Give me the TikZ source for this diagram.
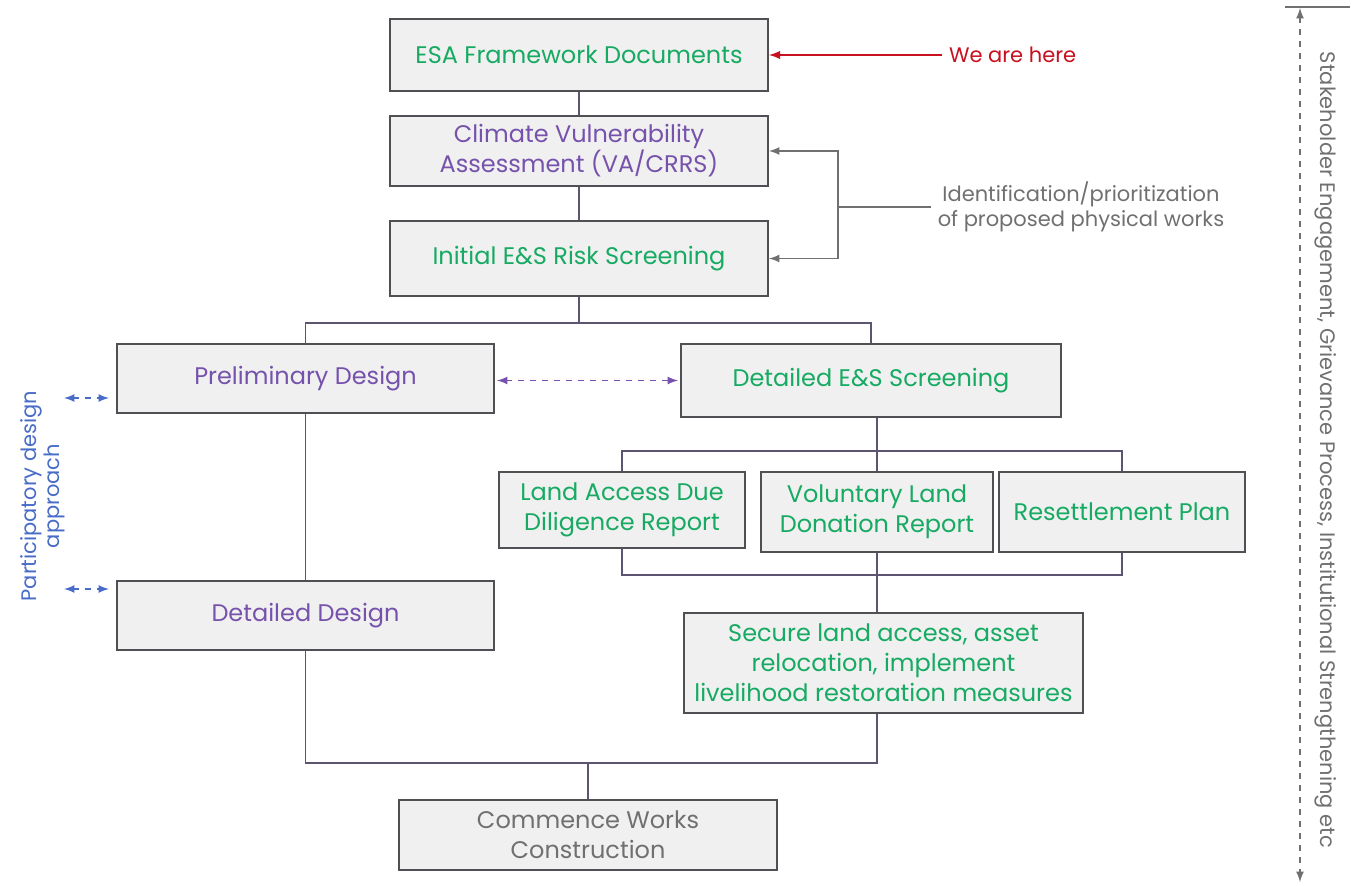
\documentclass[tikz,border=0pt]{standalone}
\usepackage{fontspec}
\setmainfont{Poppins}
\usepackage{tikz}
\usetikzlibrary{arrows}
\definecolor{esgreen}{RGB}{22,170,98}
\definecolor{espurple}{RGB}{118,82,172}
\definecolor{esgrey}{RGB}{112,112,112}
\definecolor{esred}{RGB}{200,16,30}
\definecolor{esblue}{RGB}{72,108,200}
\definecolor{boxfill}{RGB}{240,240,240}
\definecolor{boxline}{RGB}{80,80,84}
\definecolor{linkcol}{RGB}{92,84,112}

\begin{document}
\begin{tikzpicture}[x=0.5pt,y=-0.5pt,>=latex,
  box/.style={draw=boxline,fill=boxfill,line width=1pt,align=center,inner sep=2pt,font=\fontsize{12}{15}\selectfont},
  link/.style={draw=linkcol,line width=0.8pt},
  side/.style={font=\fontsize{10.5}{12.5}\selectfont,align=center}]
%\draw [help lines] (0,0) grid (1358,886);
\useasboundingbox (0,0) rectangle (1358,886);
\node[box,text=esgreen,minimum width=189pt,minimum height=36pt] (esa) at (579,55) {ESA Framework Documents};
\node[box,text=espurple,minimum width=189pt,minimum height=35pt] (clim) at (579,151) {Climate Vulnerability\\Assessment (VA/CRRS)};
\node[box,text=esgreen,minimum width=189pt,minimum height=37.5pt] (init) at (579,258.5) {Initial E\&S Risk Screening};
\draw[link] (esa) -- (clim); \draw[link] (clim) -- (init);

% we are here / identification
\node[side,anchor=west,text=esred] (here) at (942,55) {We are here};
\draw[->,esred,line width=0.9pt] (here.west) -- (here.west -| esa.east);
\node[side,text=esgrey] (ident) at (1081,207) {Identification/prioritization\\of proposed physical works};
\coordinate (b1) at (838,207);
\draw[->,esgrey,line width=0.8pt] (b1) |- (clim.east); \draw[->,esgrey,line width=0.8pt] (b1) |- (init.east); \draw[esgrey,line width=0.8pt] (b1) -- (b1 -| ident.west);

% design branch and screening branch
\node[box,text=espurple,minimum width=188.5pt,minimum height=34.5pt] (prelim) at (305.5,378.5) {Preliminary Design};
\node[box,text=esgreen,minimum width=190pt,minimum height=36.5pt] (dets) at (871,380.5) {Detailed E\&S Screening};
\coordinate (j1) at (579,323);
\draw[link] (init) -- (j1); \draw[link] (prelim.north) |- (j1) -| (dets.north);
\draw[<->,dashed,espurple,line width=0.8pt,shorten <=1pt,shorten >=1pt] ([yshift=-1pt]prelim.east) -- ([yshift=-1pt]prelim.east -| dets.west);

\node[box,text=esgreen,minimum width=123pt,minimum height=38pt] (land) at (622,510) {Land Access Due\\Diligence Report};
\node[box,text=esgreen,minimum width=116pt,minimum height=40pt] (vol) at (877,512) {Voluntary Land\\Donation Report};
\node[box,text=esgreen,minimum width=123pt,minimum height=40pt] (reset) at (1122,512) {Resettlement Plan};
\coordinate (j2) at (877,451); \coordinate (j3) at (877,575);
\draw[link] (vol.north |- dets.south) -- (vol.north); \draw[link] (land.north) |- (j2) -| (reset.north);
\draw[link] (land.south) |- (j3) -| (reset.south); \draw[link] (vol.south) -- (j3);

\node[box,text=esgreen,minimum width=199.5pt,minimum height=50pt] (secure) at (883.5,663) {Secure land access, asset\\relocation, implement\\livelihood restoration measures};
\draw[link] (j3) -- (j3 |- secure.north);

\node[box,text=espurple,minimum width=188.5pt,minimum height=34.5pt] (detd) at (305.5,615.5) {Detailed Design};
\draw[link] (prelim) -- (detd);

\node[box,text=esgrey,minimum width=189pt,minimum height=35pt] (comm) at (588,835) {Commence Works\\Construction};
\coordinate (j4) at (588,763);
\draw[link] (detd.south) |- (j4) -| (secure.south -| j3); \draw[link] (j4) -- (comm.north);

% participatory design
\node[side,rotate=90,text=esblue,font=\fontsize{10.5}{10.5}\selectfont] (partic) at (43,496) {Participatory design\\approach};
\coordinate (p1) at (64,398); \coordinate (p2) at (64,589);
\draw[<->,dashed,esblue,line width=0.8pt] (p1) -- ([xshift=-3.5pt]prelim.west |- p1);
\draw[<->,dashed,esblue,line width=0.8pt] (p2) -- ([xshift=-3.5pt]detd.west |- p2);

% stakeholder engagement
\coordinate (st) at (1300,8); \coordinate (sb) at (1300,882);
\coordinate (tl) at (1285,7); \coordinate (tr) at (1350,7);
\draw[esgrey,line width=0.8pt] (tl) -- (tr);
\draw[<->,dashed,esgrey,line width=0.8pt] (st) -- (sb);
\node[side,rotate=-90,text=esgrey] (stake) at (1326,450) {Stakeholder Engagement, Grievance Process, Institutional Strengthening etc};
\end{tikzpicture}
\end{document}
